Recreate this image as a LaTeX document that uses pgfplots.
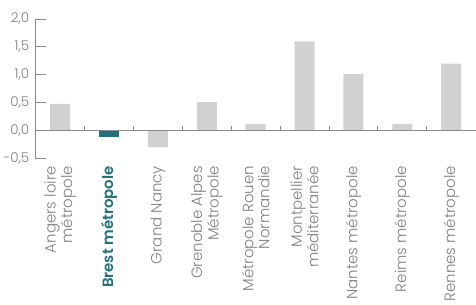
\documentclass[border=0pt]{standalone}
\usepackage{fontspec}
\setmainfont{Poppins}[UprightFont={* Light}, BoldFont={* SemiBold}]
\usepackage{pgfplots}
\pgfplotsset{compat=1.18}
\definecolor{bargray}{HTML}{D0D1D3}
\definecolor{teal}{HTML}{22707A}
\definecolor{txtgray}{HTML}{7F7F7F}
\definecolor{axgray}{HTML}{8A8A8A}
\begin{document}
\begin{tikzpicture}
\begin{axis}[
  at={(0,0)}, anchor=south west,
  scale only axis, width=441pt, height=140pt,
  xmin=-0.5, xmax=8.5, ymin=-0.5, ymax=2.0,
  axis y line*=left, axis x line*=bottom,
  x axis line style={draw=none},
  y axis line style={draw=axgray, line width=0.8pt},
  ytick={-0.5,0,0.5,1,1.5,2},
  tick align=inside, major tick length=10pt,
  ytick style={draw=axgray, line width=0.8pt},
  xtick style={draw=none},
  /pgf/number format/.cd, use comma, fixed, fixed zerofill, precision=1, assume math mode=true,
  /pgfplots/.cd,
  yticklabel style={font=\fontsize{13.5}{14}\selectfont, text=txtgray, xshift=-3pt},
  xtick={0,...,8},
  xticklabels={{Angers loire\\métropole},{\textbf{\textcolor{teal}{Brest métropole}}},{Grand Nancy},{Grenoble Alpes\\Métropole},{Métropole Rouen\\Normandie},{Montpellier\\méditerranée},{Nantes métropole},{Reims métropole},{Rennes métropole}},
  xticklabel style={rotate=90, anchor=east, align=right, font=\fontsize{15}{13}\selectfont, text=txtgray, xshift=6pt},
  ybar, bar width=20pt, bar shift=0pt,
  clip=false,
]
\addplot[fill=bargray, draw=none] coordinates {(0,0.48) (2,-0.30) (3,0.51) (4,0.12) (5,1.60) (6,1.01) (7,0.12) (8,1.20)};
\addplot[fill=teal, draw=none] coordinates {(1,-0.11)};
\draw[axgray, line width=0.8pt] (axis cs:-0.5,0) -- (axis cs:8.5,0);
\pgfplotsinvokeforeach{0.5,1.5,...,7.5}{\draw[axgray, line width=0.8pt] (axis cs:#1,0) -- (axis cs:#1,0.075);}
\end{axis}
\useasboundingbox (-35pt,-141pt) rectangle (441pt,159pt);
\end{tikzpicture}
\end{document}
